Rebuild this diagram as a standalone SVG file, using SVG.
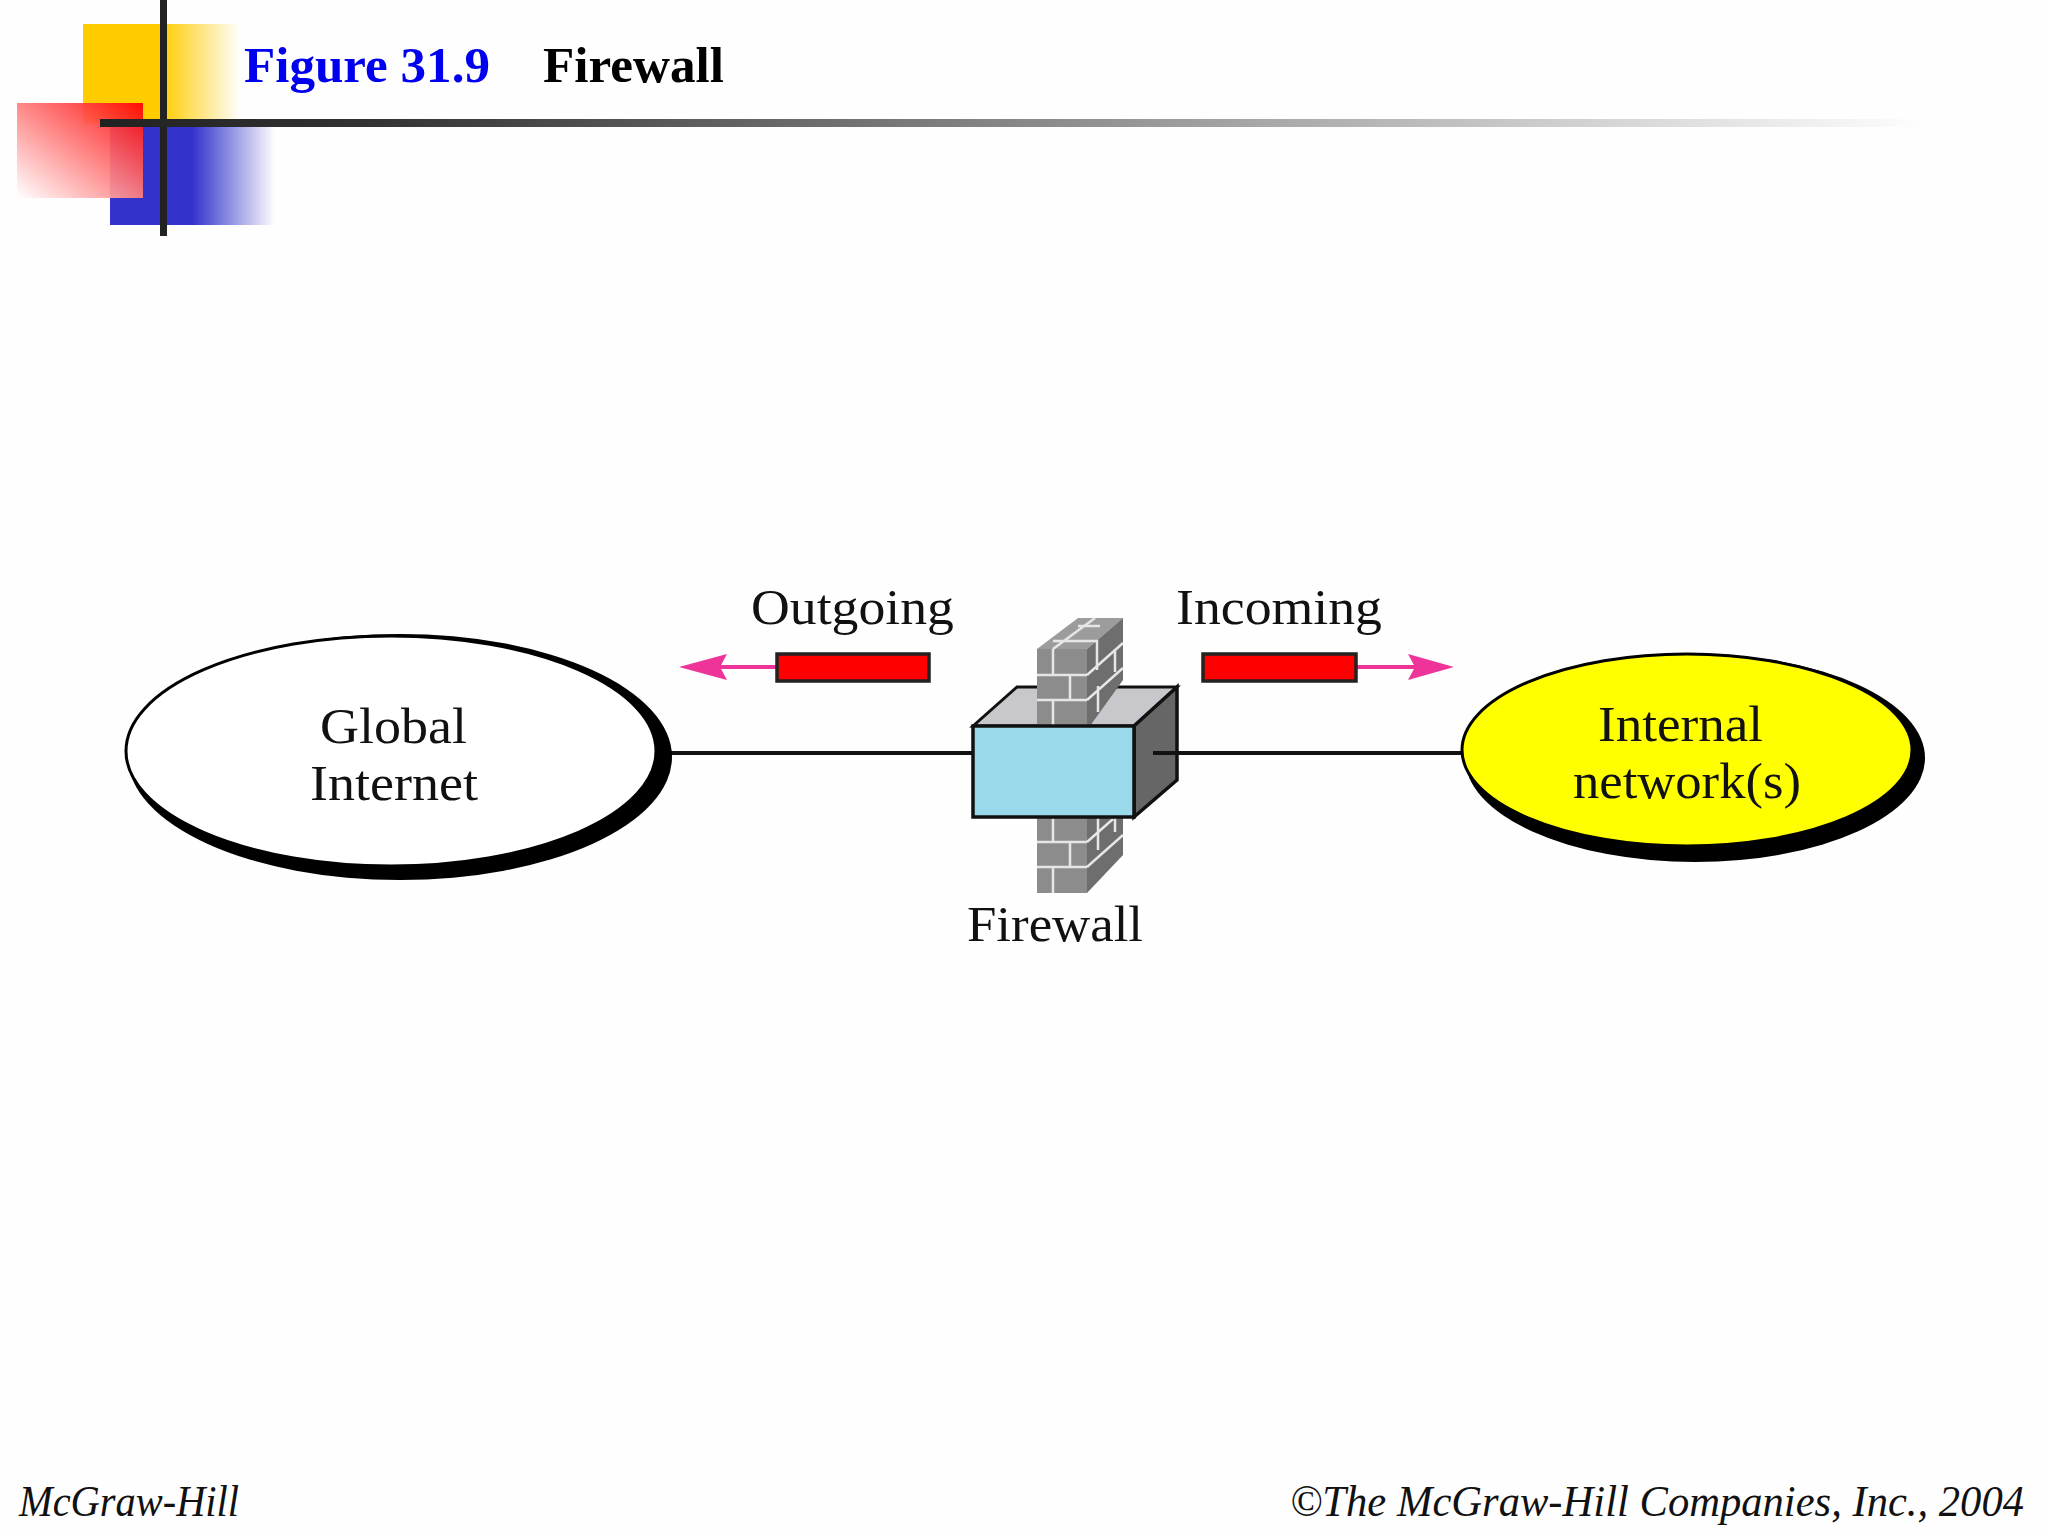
<svg xmlns="http://www.w3.org/2000/svg" width="2048" height="1536" viewBox="0 0 2048 1536">
<style>
.lbl{font-family:"Liberation Serif","Times New Roman",serif;font-size:50px;fill:#111}
.ttl{font-family:"Liberation Serif","Times New Roman",serif;font-size:50px;font-weight:bold}
.ftr{font-family:"Liberation Serif","Times New Roman",serif;font-size:44px;font-style:italic;fill:#111}
.edge{stroke:#111;stroke-width:4;fill:none}
.flow{stroke:#ee3399;stroke-width:4;fill:none}
.pkt{fill:#ff0000;stroke:#222;stroke-width:3.5}
.mortar{stroke:#e6e6e6;stroke-width:2.5;fill:none}
</style>
<defs>
<linearGradient id="gy" x1="0" x2="1" y1="0" y2="0"><stop offset="0.5" stop-color="#ffcc00"/><stop offset="1" stop-color="#ffcc00" stop-opacity="0"/></linearGradient>
<linearGradient id="gb" x1="0" x2="1" y1="0" y2="0"><stop offset="0.5" stop-color="#3333cc"/><stop offset="1" stop-color="#3333cc" stop-opacity="0"/></linearGradient>
<linearGradient id="gr" x1="1" x2="0" y1="0" y2="1"><stop offset="0" stop-color="#ff0000"/><stop offset="1" stop-color="#ffffff"/></linearGradient>
<linearGradient id="gl" x1="0" x2="1" y1="0" y2="0"><stop offset="0" stop-color="#222"/><stop offset="0.15" stop-color="#333"/><stop offset="1" stop-color="#333" stop-opacity="0"/></linearGradient>
</defs>
<rect width="2048" height="1536" fill="#fefefe"/>
<g id="decoration">
<rect x="83" y="24" width="157" height="100" fill="url(#gy)"/>
<rect x="110" y="125" width="165" height="100" fill="url(#gb)"/>
<rect x="17" y="103" width="126" height="95" fill="url(#gr)" opacity="0.93"/>
<rect x="160" y="0" width="7" height="236" fill="#222"/>
<rect x="100" y="119" width="1825" height="8" fill="url(#gl)"/>
</g>
<g id="title">
<text class="ttl" x="244" y="82" fill="#0000ee" textLength="246" lengthAdjust="spacingAndGlyphs">Figure 31.9</text>
<text class="ttl" x="543" y="82" fill="#000" textLength="181" lengthAdjust="spacingAndGlyphs">Firewall</text>
</g>
<g id="firewall">
<path d="M973 726L1017 687H1177L1134 726Z" fill="#c8c8cc" stroke="#111" stroke-width="3"/>
<path d="M1037 649L1078 618H1123L1087 649Z" fill="#9c9c9c"/>
<rect x="1037" y="649" width="50" height="77" fill="#8c8c8c"/>
<rect x="1037" y="817" width="50" height="76" fill="#8c8c8c"/>
<path d="M1087 649L1123 618V680L1090 726H1087Z" fill="#6e6e6e"/>
<path d="M1087 817H1123V855L1087 893Z" fill="#6e6e6e"/>
<g class="mortar">
<path d="M1053 649L1095 618M1053 641H1097V670M1078 626H1100"/>
<path d="M1087 675L1123 643M1087 700L1123 668M1115 650V672M1098 686V712"/>
<path d="M1037 675H1087M1037 700H1087M1053 649V675M1070 675V700M1053 700V726"/>
<path d="M1037 842H1087M1037 867H1087M1053 817V842M1070 842V867M1053 867V893"/>
<path d="M1087 842L1113 819M1087 867L1123 835M1115 817V832M1098 817V850"/>
</g>
<path d="M1134 726L1177 687V780L1134 817Z" fill="#666" stroke="#111" stroke-width="3.5"/>
<rect x="973" y="726" width="161" height="91" fill="#99d9ea" stroke="#111" stroke-width="3.5"/>
<text class="lbl" x="967" y="941" textLength="176" lengthAdjust="spacingAndGlyphs">Firewall</text>
</g>
<g id="connectors">
<path class="edge" d="M670 753H973"/>
<path class="edge" d="M1153 753H1465"/>
<path class="flow" d="M717 667H777"/>
<path d="M679 667L727 654L720 667L727 680Z" fill="#ee3399"/>
<path class="flow" d="M1356 667H1416"/>
<path d="M1454 667L1408 654L1415 667L1408 680Z" fill="#ee3399"/>
</g>
<g id="global-internet">
<ellipse cx="400" cy="757" rx="272" ry="123" fill="#000"/>
<ellipse cx="391" cy="751" rx="265" ry="115" fill="#fff" stroke="#000" stroke-width="3"/>
<text class="lbl" x="320" y="743" textLength="147" lengthAdjust="spacingAndGlyphs">Global</text>
<text class="lbl" x="310" y="800" textLength="168" lengthAdjust="spacingAndGlyphs">Internet</text>
</g>
<g id="internal-network">
<ellipse cx="1695" cy="758" rx="230" ry="104" fill="#000"/>
<ellipse cx="1687" cy="750" rx="225" ry="96" fill="#ffff00" stroke="#000" stroke-width="3"/>
<text class="lbl" x="1598" y="741" textLength="165" lengthAdjust="spacingAndGlyphs">Internal</text>
<text class="lbl" x="1573" y="798" textLength="228" lengthAdjust="spacingAndGlyphs">network(s)</text>
</g>
<g id="packet-outgoing">
<rect class="pkt" x="777" y="654" width="152" height="27"/>
<text class="lbl" x="751" y="624" textLength="203" lengthAdjust="spacingAndGlyphs">Outgoing</text>
</g>
<g id="packet-incoming">
<rect class="pkt" x="1203" y="654" width="153" height="27"/>
<text class="lbl" x="1176" y="624" textLength="206" lengthAdjust="spacingAndGlyphs">Incoming</text>
</g>
<g id="footer">
<text class="ftr" x="19" y="1516" textLength="220" lengthAdjust="spacingAndGlyphs">McGraw-Hill</text>
<text class="ftr" x="1290" y="1516" textLength="734" lengthAdjust="spacingAndGlyphs">©The McGraw-Hill Companies, Inc., 2004</text>
</g>
</svg>
